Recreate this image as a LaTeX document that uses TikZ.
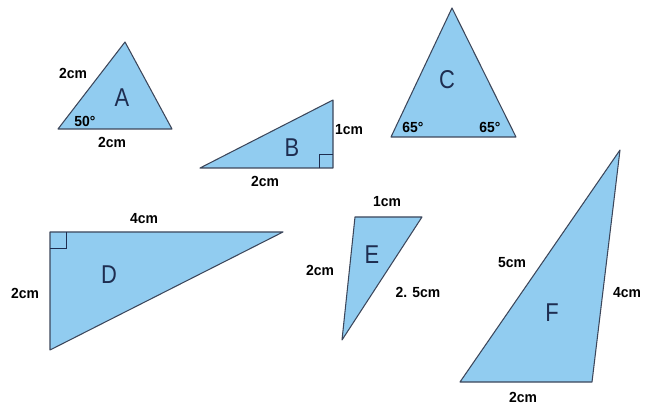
\documentclass[tikz,border=0pt]{standalone}
\usepackage{fontspec}
\setmainfont{Liberation Sans}
\definecolor{tfill}{RGB}{145,204,240}
\definecolor{tline}{RGB}{60,70,90}
\definecolor{tletter}{RGB}{30,45,80}
\begin{document}
\begin{tikzpicture}[x={(0.03cm,0)},y={(0,-0.03cm)},
  tri/.style={fill=tfill,draw=tline,line width=0.9pt,line join=round},
  rightmark/.style={draw=tletter,line width=0.7pt},
  lbl/.style={font=\bfseries\fontsize{12.5}{12.5}\selectfont,text=black,inner sep=0pt,xscale=0.95},
  big/.style={font=\fontsize{22}{22}\selectfont,text=tletter,inner sep=0pt,xscale=0.85}]
\useasboundingbox (0,0) rectangle (645,404);
% A
\coordinate (A1) at (125,42); \coordinate (A2) at (58,129); \coordinate (A3) at (172,129);
\draw[tri] (A1) -- (A2) -- (A3) -- cycle;
\node[big] (Al) at (122,98) {A};
\node[lbl] (Aa) at (73,73) {2cm};
\node[lbl] (Ab) at (85,121) {50°};
\node[lbl] (Ac) at (112,142) {2cm};
% B
\coordinate (B1) at (200,168); \coordinate (B2) at (333,168); \coordinate (B3) at (333,100);
\draw[tri] (B1) -- (B2) -- (B3) -- cycle;
\draw[rightmark] (319,168) -- (319,154) -- (333,154);
\node[big] (Bl) at (292,148) {B};
\node[lbl] (Ba) at (349,130) {1cm};
\node[lbl] (Bb) at (265,181) {2cm};
% C
\coordinate (C1) at (452,8); \coordinate (C2) at (391,137); \coordinate (C3) at (516,137);
\draw[tri] (C1) -- (C2) -- (C3) -- cycle;
\node[big] (Cl) at (447,80) {C};
\node[lbl] (Ca) at (413,127) {65°};
\node[lbl] (Cb) at (490,127) {65°};
% D
\coordinate (D1) at (50,232); \coordinate (D2) at (283,232); \coordinate (D3) at (50,350);
\draw[tri] (D1) -- (D2) -- (D3) -- cycle;
\draw[rightmark] (50,248) -- (66,248) -- (66,232);
\node[big] (Dl) at (109,275) {D};
\node[lbl] (Da) at (144,219) {4cm};
\node[lbl] (Db) at (25,293) {2cm};
% E
\coordinate (E1) at (355,217); \coordinate (E2) at (422,217); \coordinate (E3) at (342,340);
\draw[tri] (E1) -- (E2) -- (E3) -- cycle;
\node[big] (El) at (372,255) {E};
\node[lbl] (Ea) at (387,202) {1cm};
\node[lbl] (Eb) at (320,270) {2cm};
\node[lbl] (Ec) at (418,292) {2. 5cm};
% F
\coordinate (F1) at (620,150); \coordinate (F2) at (460,382); \coordinate (F3) at (592,382);
\draw[tri] (F1) -- (F2) -- (F3) -- cycle;
\node[big] (Fl) at (552,313) {F};
\node[lbl] (Fa) at (512,263) {5cm};
\node[lbl] (Fb) at (627,293) {4cm};
\node[lbl] (Fc) at (523,397) {2cm};
\end{tikzpicture}
\end{document}
